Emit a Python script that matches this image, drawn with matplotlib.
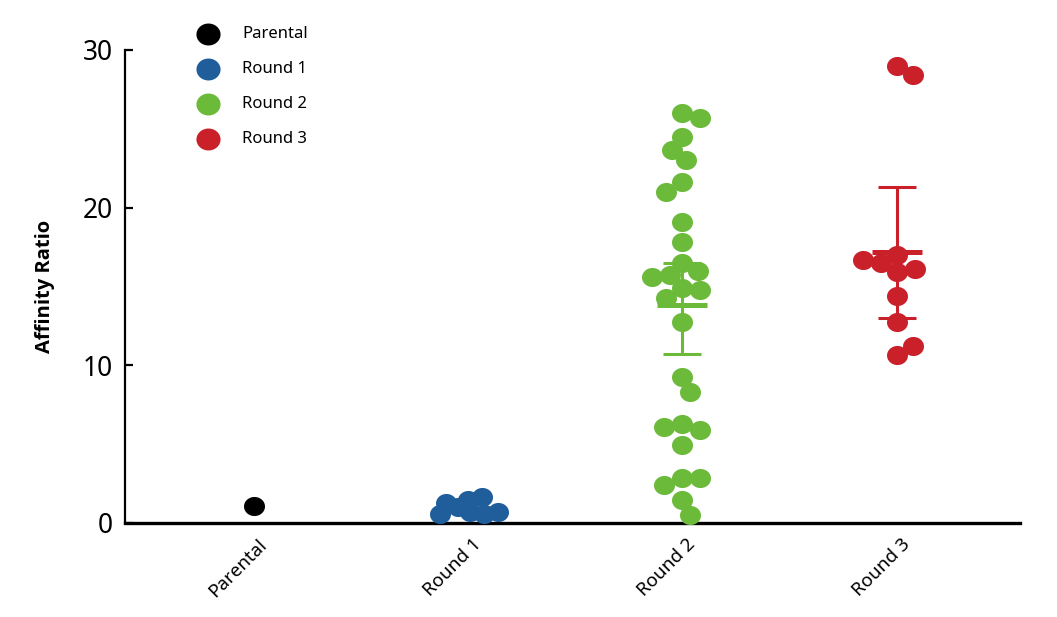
import numpy as np
import matplotlib
matplotlib.use('Agg')
import matplotlib.pyplot as plt
from matplotlib.path import Path
from matplotlib.transforms import ScaledTranslation

plt.rcParams['font.family'] = ['Noto Sans', 'DejaVu Sans']

# ── Data ──────────────────────────────────────────────────────────────────────
groups = ['Parental', 'Round 1', 'Round 2', 'Round 3']
colors = ['#000000', '#1f5e9b', '#6bba3a', '#c9202a']

parental = [1.1]
round1 = [1.45, 1.65, 1.0, 1.25, 0.7, 0.6, 0.7, 0.6]
round2 = [26.0, 25.7, 24.5, 23.65, 23.0, 21.6, 21.0, 19.1, 17.8, 16.5,
          16.0, 15.7, 15.6, 14.9, 14.8, 14.3, 12.75, 9.26, 8.3, 6.3,
          5.9, 6.1, 4.95, 2.85, 2.85, 2.4, 1.46, 0.5]
round3 = [29.0, 28.4, 17.0, 16.5, 15.9, 16.1, 16.7, 14.4, 12.75, 10.65, 11.2]
values = [parental, round1, round2, round3]

# mean with 95% CI, shown for rounds 2 and 3 only
summary_idx = [2, 3]
means = [13.8, 17.2]
ci_low = [10.7, 13.0]
ci_high = [16.5, 21.3]

# ── Figure ────────────────────────────────────────────────────────────────────
fig = plt.figure(figsize=(10.57, 6.17), dpi=100)
ax = fig.add_axes([0.1183, 0.1524, 0.8467, 0.7666])
ax.set_xlim(-0.6, 3.575)
ax.set_ylim(0, 30)

# slightly wide ellipse marker
t = np.linspace(0, 2 * np.pi, 61)
ell = Path(np.column_stack([1.1 * np.cos(t), np.sin(t)]), closed=True)
DOT_W, DOT_H = 21.0, 19.0  # px
size = (DOT_W * 72 / fig.dpi) ** 2
overlap = [0.85, 0.6, 0.85, 0.85]  # min spacing between dots, in dot sizes

bb = ax.get_window_extent()
px_x = bb.width / (3.575 + 0.6)
px_y = bb.height / 30.0

def swarm(vals, f=0.85, step=2):
    # simple overlapping beeswarm in pixel space, balanced left/right
    placed, offs = [], []
    for v in vals:
        y = v * px_y
        bias = sum(p[0] for p in placed)
        cands = sorted(range(-80, 81, step),
                       key=lambda c: (abs(c), (c > 0) if bias > 0 else (c < 0)))
        for c in cands:
            if all(((c - px) / DOT_W) ** 2 + ((y - py) / DOT_H) ** 2 >= f * f
                   for px, py in placed):
                break
        placed.append((c, y))
        offs.append(c)
    return np.array(offs, dtype=float) / px_x

handles = []
for i, (vals, col) in enumerate(zip(values, colors)):
    xs = i + swarm(vals, f=overlap[i])
    h = ax.scatter(xs, vals, s=size, marker=ell, color=col, linewidths=0,
                   zorder=3, clip_on=False, label=groups[i])
    handles.append(h)

for k, i in enumerate(summary_idx):
    col = colors[i]
    ax.hlines(means[k], i - 0.117, i + 0.117, color=col, lw=3.6, zorder=2)
    ax.vlines(i, ci_low[k], ci_high[k], color=col, lw=2.2, zorder=2)
    ax.hlines([ci_low[k], ci_high[k]], i - 0.089, i + 0.089, color=col, lw=2.2, zorder=2)

# ── Axes styling ──────────────────────────────────────────────────────────────
for s in ['top', 'right']:
    ax.spines[s].set_visible(False)
ax.spines['left'].set_linewidth(1.6)
ax.spines['bottom'].set_linewidth(2.4)

ax.set_yticks([0, 10, 20, 30])
ax.tick_params(axis='y', direction='in', length=6, width=1.6, pad=9, labelsize=19)
ax.set_xticks(range(len(groups)))
ax.set_xticklabels(groups, rotation=45, ha='right', fontsize=13.5)
ax.tick_params(axis='x', length=0, pad=9)
for lab in ax.get_xticklabels():
    lab.set_transform(lab.get_transform() + ScaledTranslation(12 / 72, 0, fig.dpi_scale_trans))

ax.set_ylabel('Affinity Ratio', fontsize=14.5, fontweight='bold', labelpad=20,
              family=['Open Sans', 'Lato', 'DejaVu Sans'])

leg = ax.legend(handles=handles, loc='upper left', bbox_to_anchor=(0.185, 0.958),
                bbox_transform=fig.transFigure, frameon=False, fontsize=12,
                handlelength=1.5, handletextpad=1.3, labelspacing=1.14,
                borderpad=0, borderaxespad=0, markerscale=1.15, scatterpoints=1)

fig.savefig('out.png', dpi=100, facecolor='white')
